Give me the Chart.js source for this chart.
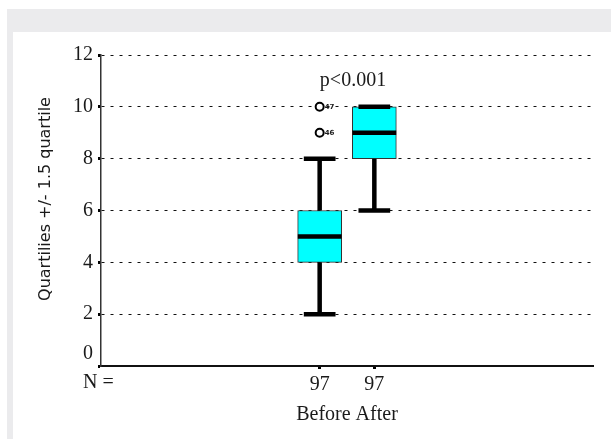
<!DOCTYPE html>
<html>
<head>
    <meta charset="UTF-8">
    <title>Before / After box plot</title>
    <script src="https://cdn.jsdelivr.net/npm/chart.js"></script>
    <style>
        html, body {
            margin: 0;
            padding: 0;
            background: #fff;
        }
        .frame {
            position: absolute;
            left: 7px;
            top: 9px;
            width: 604px;
            height: 430px;
            background: #ebebed;
        }
        .panel {
            position: absolute;
            left: 13px;
            top: 32px;
            width: 598px;
            height: 407px;
            background: #fff;
        }
        .wrap {
            position: absolute;
            left: 0;
            top: 0;
            width: 611px;
            height: 439px;
        }
    </style>
</head>
<body>
    <div class="frame"></div>
    <div class="panel"></div>
    <div class="wrap"><canvas id="myChart" width="611" height="439"></canvas></div>

    <script>
        // data
        const groups = ['Before', 'After'];
        const positions = [4, 5];
        const counts = [97, 97];
        const whiskerLow = [2, 6];
        const q1 = [4, 8];
        const median = [5, 9];
        const q3 = [6, 10];
        const whiskerHigh = [8, 10];
        const outlierGroup = [0, 0];
        const outlierValue = [9, 10];
        const outlierCase = ['46', '47'];
        const yTicks = [0, 2, 4, 6, 8, 10, 12];
        const pText = 'p<0.001';
        const pLevel = 11;
        const yTitle = 'Quartilies +/- 1.5 quartile';

        const serif = '"Liberation Serif", "Times New Roman", serif';
        const ink = '#1a1a1a';
        const capHalf = 0.29;
        const boxHalf = 0.4;

        // whisker stems and caps as one broken line
        const whiskers = [];
        const medians = [];
        for (let i = 0; i < groups.length; i++) {
            const x = positions[i];
            whiskers.push({ x: x, y: q1[i] }, { x: x, y: whiskerLow[i] }, { x: x, y: null });
            whiskers.push({ x: x - capHalf, y: whiskerLow[i] }, { x: x + capHalf, y: whiskerLow[i] }, { x: x, y: null });
            whiskers.push({ x: x, y: q3[i] }, { x: x, y: whiskerHigh[i] }, { x: x, y: null });
            whiskers.push({ x: x - capHalf, y: whiskerHigh[i] }, { x: x + capHalf, y: whiskerHigh[i] }, { x: x, y: null });
            medians.push({ x: x - boxHalf, y: median[i] }, { x: x + boxHalf, y: median[i] }, { x: x, y: null });
        }
        const outliers = outlierValue.map((v, i) => ({ x: positions[outlierGroup[i]], y: v }));

        const annotations = {
            id: 'annotations',
            afterDatasetsDraw(chart) {
                const ctx = chart.ctx;
                const xs = chart.scales.x;
                const ys = chart.scales.y;
                ctx.save();
                // case numbers beside the outliers
                ctx.fillStyle = ink;
                ctx.font = 'bold 7px "DejaVu Sans", sans-serif';
                ctx.textAlign = 'left';
                ctx.textBaseline = 'middle';
                outliers.forEach((p, i) => {
                    ctx.fillText(outlierCase[i], xs.getPixelForValue(p.x) + 5, ys.getPixelForValue(p.y));
                });
                // p value over the two boxes
                ctx.font = '20px ' + serif;
                ctx.textAlign = 'center';
                const midX = (xs.getPixelForValue(positions[0]) + xs.getPixelForValue(positions[1])) / 2;
                ctx.fillText(pText, midX + 6, ys.getPixelForValue(pLevel));
                // N = label in front of the counts
                ctx.textAlign = 'left';
                ctx.fillText('N =', 83, 383);
                // y title, sits a little above the middle of the axis
                ctx.translate(46, 199);
                ctx.rotate(-Math.PI / 2);
                ctx.textAlign = 'center';
                ctx.font = '16px "DejaVu Sans", sans-serif';
                ctx.fillText(yTitle, 0, 0);
                ctx.restore();
            }
        };

        const ctx = document.getElementById('myChart').getContext('2d');
        const chart = new Chart(ctx, {
            data: {
                datasets: [{
                    type: 'scatter',
                    data: outliers,
                    pointStyle: 'circle',
                    pointRadius: 4,
                    pointBackgroundColor: '#fff',
                    pointBorderColor: '#000',
                    pointBorderWidth: 2,
                    order: 0
                }, {
                    type: 'line',
                    data: medians,
                    borderColor: '#000',
                    borderWidth: 4.5,
                    borderCapStyle: 'butt',
                    pointRadius: 0,
                    spanGaps: false,
                    order: 1
                }, {
                    type: 'line',
                    data: whiskers,
                    borderColor: '#000',
                    borderWidth: 4.5,
                    borderCapStyle: 'butt',
                    pointRadius: 0,
                    spanGaps: false,
                    order: 2
                }, {
                    type: 'bar',
                    data: positions.map((x, i) => ({ x: x, y: [q1[i], q3[i]] })),
                    backgroundColor: '#00ffff',
                    borderColor: '#333',
                    borderWidth: 1,
                    borderSkipped: false,
                    barThickness: 44,
                    order: 3
                }]
            },
            options: {
                responsive: false,
                animation: false,
                layout: {
                    padding: { left: 29, top: 55, right: 18, bottom: 0 }
                },
                plugins: {
                    legend: { display: false },
                    tooltip: { enabled: false }
                },
                scales: {
                    x: {
                        type: 'linear',
                        min: 0,
                        max: 9,
                        offset: false,
                        afterBuildTicks: scale => {
                            scale.ticks = positions.map(v => ({ value: v }));
                        },
                        afterFit: scale => {
                            scale.height = 73;
                        },
                        ticks: {
                            color: ink,
                            font: { family: serif, size: 20 },
                            padding: 4,
                            maxRotation: 0,
                            autoSkip: false,
                            callback: function(value) {
                                const i = positions.indexOf(value);
                                return i >= 0 ? String(counts[i]) : '';
                            }
                        },
                        grid: {
                            offset: false,
                            drawOnChartArea: false,
                            drawTicks: true,
                            tickLength: 3,
                            tickWidth: 3,
                            tickColor: '#000'
                        },
                        border: { display: true, color: '#111', width: 2 },
                        title: {
                            display: true,
                            text: groups.join(' '),
                            color: ink,
                            font: { family: serif, size: 20 },
                            padding: { top: 0, bottom: 12 }
                        }
                    },
                    y: {
                        min: 0,
                        max: 12,
                        afterBuildTicks: scale => {
                            scale.ticks = yTicks.map(v => ({ value: v }));
                        },
                        afterFit: scale => {
                            scale.width = 72;
                        },
                        ticks: {
                            color: ink,
                            font: { family: serif, size: 20 },
                            padding: 5,
                            // the 0 label sits a little above its tick
                            callback: value => value === 0 ? ['0', ''] : String(value)
                        },
                        grid: {
                            color: '#111',
                            lineWidth: 1,
                            tickLength: 3,
                            tickWidth: 3,
                            tickColor: '#000'
                        },
                        border: { display: true, color: '#333', width: 1.5, dash: [3, 6] },
                        title: { display: false }
                    }
                }
            },
            plugins: [annotations]
        });
    </script>
</body>
</html>
